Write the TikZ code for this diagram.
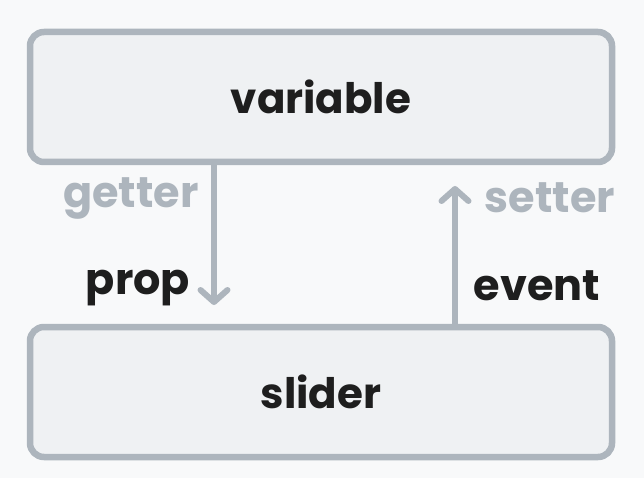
\documentclass[tikz,border=0pt]{standalone}
\usepackage{fontspec}
\setmainfont{Poppins}
\usetikzlibrary{arrows.meta}
\definecolor{paper}{HTML}{F8F9FA}
\definecolor{edge}{HTML}{ADB5BD}
\definecolor{boxfill}{HTML}{EFF1F3}
\definecolor{ink}{HTML}{1E1E1E}
\begin{document}
\begin{tikzpicture}[x=1pt, y=-1pt,
  box/.style={draw=edge, fill=boxfill, line width=6.5pt, rounded corners=14pt,
    minimum width=582pt, minimum height=130pt, inner sep=0pt,
    font=\fontsize{42}{48}\selectfont\bfseries, text=ink},
  lbl/.style={font=\fontsize{43}{48}\selectfont\bfseries, inner sep=0pt},
  flow/.style={draw=edge, line width=6pt, line cap=round,
    -{Straight Barb[length=12pt, width=27pt, line width=6pt, round]}}]
  \fill[paper] (0,0) rectangle (644,478);
  \useasboundingbox (0,0) rectangle (644,478);
  \node[box] (var) at (321,97) {variable};
  \node[box] (sli) at (321,392) {slider};
  \coordinate (down) at (214,305);
  \coordinate (up) at (455,186);
  \draw[flow] (var.south -| down) -- (down);
  \draw[flow] (sli.north -| up) -- (up);
  \node[lbl, text=edge] (get) at (131,198) {getter};
  \node[lbl, text=ink] (prop) at (138,288) {prop};
  \node[lbl, text=edge] (set) at (550,198) {setter};
  \node[lbl, text=ink] (evt) at (537,286) {event};
\end{tikzpicture}
\end{document}
